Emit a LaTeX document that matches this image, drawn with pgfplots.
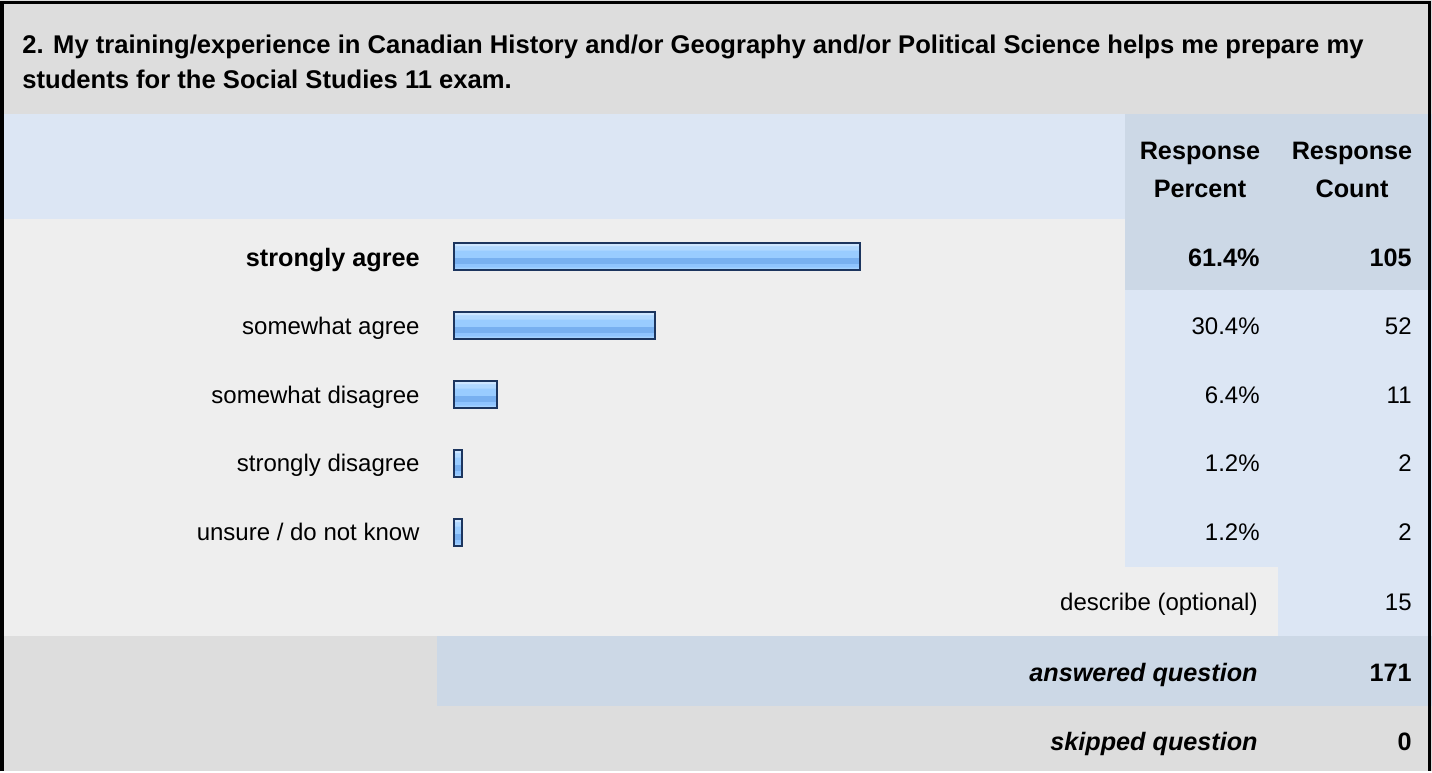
\documentclass[border=0pt]{standalone}
\usepackage{pgfplots}
\usepackage{pgfplotstable}
\pgfplotsset{compat=1.18}
\usepackage{fontspec}
\setmainfont{Liberation Sans}

\definecolor{titlegray}{HTML}{DDDDDD}
\definecolor{rowgray}{HTML}{EEEEEE}
\definecolor{lightblue}{HTML}{DCE6F4}
\definecolor{darkblue}{HTML}{CCD8E6}
\definecolor{barline}{HTML}{1C355E}
\definecolor{bA}{HTML}{A5D2FF}
\definecolor{bB}{HTML}{8FC4FE}
\definecolor{bC}{HTML}{78B0F0}
\definecolor{bD}{HTML}{99CCFF}
\definecolor{bE}{HTML}{B0D8FF}
\definecolor{bF}{HTML}{CDE6FF}

% percent, row position (px from top)
\pgfplotstableread{
pct  row
61.4 256.5
30.4 325.5
6.4  394.5
1.2  463.5
1.2  532.5
}\resp

\newcommand\fs{\fontsize{12}{14}\selectfont}
\newcommand\fb{\fontsize{12.6}{14}\selectfont\bfseries}

\pgfplotsset{pix/.style={scale only axis, width=716pt, height=385.5pt,
  hide axis, y dir=reverse, ymin=0, ymax=771, clip=false,
  at={(0,0)}, anchor=south west}}

\begin{document}
\begin{tikzpicture}[font=\fs, every node/.style={inner sep=0pt}]
\begin{axis}[pix, xmin=0, xmax=1432]
  % cells
  \fill[titlegray] (0,0) rectangle (1432,114);
  \fill[lightblue] (0,114) rectangle (1125,219);
  \fill[darkblue] (1125,114) rectangle (1432,219);
  \fill[rowgray] (0,219) rectangle (1125,567);
  \fill[rowgray] (0,567) rectangle (1278,636);
  \fill[darkblue] (1125,219) rectangle (1432,290);
  \fill[lightblue] (1125,290) rectangle (1432,567);
  \fill[lightblue] (1278,567) rectangle (1432,636);
  \fill[titlegray] (0,636) rectangle (437,706);
  \fill[darkblue] (437,636) rectangle (1432,706);
  \fill[titlegray] (0,706) rectangle (1432,771);
  % frame
  \draw[black, line width=1.8pt] (2.2,771) -- (2.2,2.5) -- (1429.5,2.5) -- (1429.5,771);

  % title
  \node[anchor=base west, font=\fontsize{12.8}{14}\selectfont\bfseries] at (22,53) {2. My training/experience in Canadian History and/or Geography and/or Political Science helps me prepare my};
  \node[anchor=base west, font=\fontsize{12.8}{14}\selectfont\bfseries] at (22,88) {students for the Social Studies 11 exam.};

  % header
  \node[anchor=base, font=\fb] at (1200,159) {Response};
  \node[anchor=base, font=\fb] at (1200,197) {Percent};
  \node[anchor=base, font=\fb] at (1352,159) {Response};
  \node[anchor=base, font=\fb] at (1352,197) {Count};

  % rows
  \node[anchor=base east, font=\fb] at (420,266) {strongly agree};
  \node[anchor=base east] at (420,334) {somewhat agree};
  \node[anchor=base east] at (420,403) {somewhat disagree};
  \node[anchor=base east] at (420,471) {strongly disagree};
  \node[anchor=base east] at (420,540) {unsure / do not know};

  \node[anchor=base east, font=\fb] at (1260,266) {61.4\%};
  \node[anchor=base east] at (1260,334) {30.4\%};
  \node[anchor=base east] at (1260,403) {6.4\%};
  \node[anchor=base east] at (1260,471) {1.2\%};
  \node[anchor=base east] at (1260,540) {1.2\%};

  \node[anchor=base east, font=\fb] at (1412,266) {105};
  \node[anchor=base east] at (1412,334) {52};
  \node[anchor=base east] at (1412,403) {11};
  \node[anchor=base east] at (1412,471) {2};
  \node[anchor=base east] at (1412,540) {2};

  \node[anchor=base east] at (1258,610) {describe (optional)};
  \node[anchor=base east] at (1412,610) {15};
  \node[anchor=base east, font=\fb\itshape] at (1258,681) {answered question};
  \node[anchor=base east, font=\fb] at (1412,681) {171};
  \node[anchor=base east, font=\fb\itshape] at (1258,750) {skipped question};
  \node[anchor=base east, font=\fb] at (1412,750) {0};
\end{axis}

% bars: base fill, glossy stripes, then outline
\begin{axis}[pix, xmin=-68.83, xmax=148.14, xbar]
  \addplot[fill=bD, draw=none, bar width=13.5pt, bar shift=0pt] table[x=pct, y=row] {\resp};
  \addplot[fill=bF, draw=none, bar width=1.75pt, bar shift=5.875pt] table[x=pct, y=row] {\resp};
  \addplot[fill=bE, draw=none, bar width=2pt, bar shift=4pt] table[x=pct, y=row] {\resp};
  \addplot[fill=bC, draw=none, bar width=3pt, bar shift=-2.25pt] table[x=pct, y=row] {\resp};
  \addplot[fill=bB, draw=none, bar width=1.75pt, bar shift=-4.625pt] table[x=pct, y=row] {\resp};
  \addplot[fill=bA, draw=none, bar width=1.25pt, bar shift=-6.125pt] table[x=pct, y=row] {\resp};
  \addplot[fill=none, draw=barline, line width=1pt, bar width=13.5pt, bar shift=0pt] table[x=pct, y=row] {\resp};
\end{axis}
\end{tikzpicture}
\end{document}
